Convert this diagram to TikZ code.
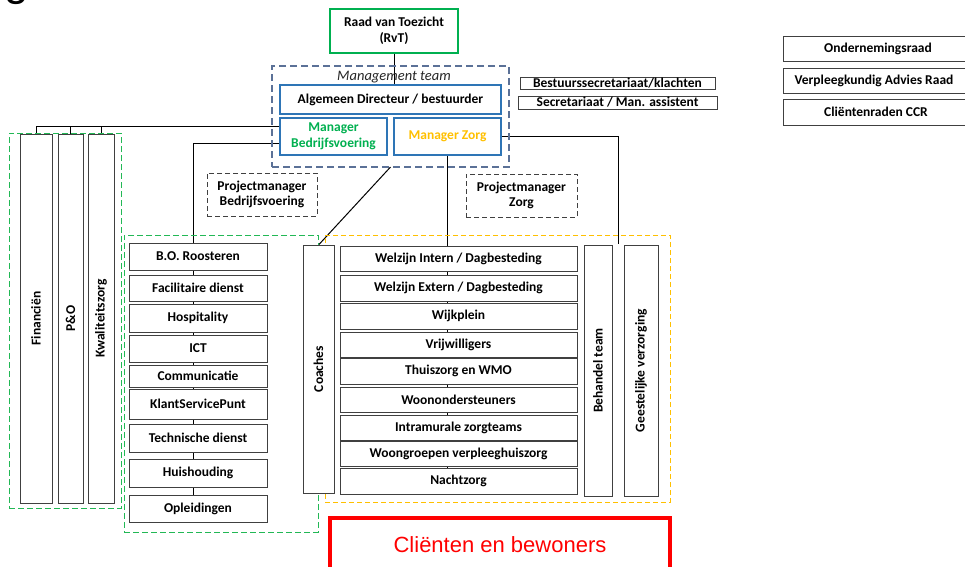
\documentclass[tikz,border=0pt]{standalone}
\usepackage{fontspec}
\setmainfont{Carlito}
\newfontfamily\arialf{Liberation Sans}
\usetikzlibrary{backgrounds}
\definecolor{gtxt}{HTML}{00B050}
\definecolor{gdash}{HTML}{22B855}
\definecolor{ydash}{HTML}{FFC000}
\definecolor{bluebox}{HTML}{2E75B6}
\definecolor{mtdash}{HTML}{5B7197}
\definecolor{edge}{HTML}{404040}
\tikzset{
  box/.style={draw=edge, line width=1pt, fill=white, inner sep=0pt, outer sep=0pt,
    font=\bfseries\fontsize{13.5}{15.5}\selectfont, align=center, text=black},
  bluebx/.style={draw=bluebox, line width=1.2pt},
  pmbox/.style={draw=edge, dash pattern=on 5pt off 3pt, line width=1pt},
  gframe/.style={draw=gdash, dash pattern=on 6pt off 3pt, line width=1pt, fill=none},
  yframe/.style={draw=ydash, dash pattern=on 5pt off 3pt, line width=1pt, fill=none},
  mtframe/.style={draw=mtdash, dash pattern=on 7pt off 4pt, line width=1.2pt, fill=none},
  conn/.style={draw=black, line width=1pt},
  rtxt/.style={font=\bfseries\fontsize{13.5}{15.5}\selectfont, inner sep=0pt},
}
\newcommand{\obox}[6][]{\node[box,#1,minimum width={(#4)-(#2)},minimum height={(#5)-(#3)}] (#6) at ({((#2)+(#4))/2},{((#3)+(#5))/2})}
\newcommand{\rotbox}[6][]{\node[box,#1,rotate=90,minimum width={(#5)-(#3)},minimum height={(#4)-(#2)}] (#6) at ({((#2)+(#4))/2},{((#3)+(#5))/2})}
\begin{document}
\begin{tikzpicture}[x=1pt,y=-1pt]
\useasboundingbox (0,0) rectangle (965,566);
% clipped title fragment
\node[anchor=base west, inner sep=0pt, font=\arialf\fontsize{44}{44}\selectfont] (ttl) at (4,-5) {g};

% frames
\obox[mtframe]{272}{66}{509}{167}{mt} {};
\node[inner sep=0pt, font=\itshape\fontsize{14.5}{16}\selectfont, text=black!85] (mtl) at (394,77) {Management team};
\obox[gframe]{9}{133}{121}{508}{gf1} {};
\obox[gframe]{124}{235}{318}{532}{gf2} {};
\obox[yframe]{325}{235}{670}{502}{yf} {};

% top
\obox[draw=gtxt, line width=1.2pt]{330}{9}{458}{53}{rvt} {Raad van Toezicht\\(RvT)};
\obox[bluebx]{280}{85}{501}{114}{alg} {Algemeen Directeur / bestuurder};
\obox[bluebx, text=gtxt]{280}{118}{387}{155}{mb} {Manager\\Bedrijfsvoering};
\obox[bluebx, text=ydash]{394}{118}{501}{155}{mz} {Manager Zorg};
\obox{520}{77}{715}{89}{bs} {Bestuurssecretariaat/klachten};
\obox{518}{96}{717}{109}{sec} {Secretariaat / Man. assistent};
\obox{783}{36}{968}{61}{or} {};
\node[rtxt] (ort) at (878,48.5) {Ondernemingsraad};
\obox{783}{68}{968}{93}{var} {};
\node[rtxt] (vart) at (874,80.5) {Verpleegkundig Advies Raad};
\obox{783}{99}{968}{125}{ccr} {};
\node[rtxt] (ccrt) at (876,112) {Cliëntenraden CCR};
\obox[pmbox]{207}{173}{317}{216}{pmb} {Projectmanager\\Bedrijfsvoering};
\obox[pmbox]{466}{174}{577}{217}{pmz} {Projectmanager\\Zorg};

% left columns
\rotbox{20}{134}{52}{503}{fin} {Financiën};
\rotbox{58}{134}{83}{503}{po} {P\&O};
\rotbox{88}{134}{114}{503}{kw} {Kwaliteitszorg};

% B.O. stack
\obox{129}{243}{267}{270}{bo} {B.O. Roosteren};
\obox{129}{275}{267}{301}{fd} {Facilitaire dienst};
\obox{129}{304}{267}{332}{hos} {Hospitality};
\obox{129}{335}{267}{362}{ict} {ICT};
\obox{129}{365}{267}{387}{com} {Communicatie};
\obox{129}{389}{267}{419}{ksp} {KlantServicePunt};
\obox{129}{424}{267}{452}{td} {Technische dienst};
\obox{129}{459}{267}{487}{hh} {Huishouding};
\obox{129}{495}{267}{522}{opl} {Opleidingen};

% zorg stack
\rotbox{303}{245}{334}{493}{coa} {Coaches};
\obox{340}{246}{577}{271}{wi} {Welzijn Intern / Dagbesteding};
\obox{340}{275}{577}{301}{we} {Welzijn Extern / Dagbesteding};
\obox{340}{303}{577}{329}{wp} {Wijkplein};
\obox{340}{332}{577}{357}{vw} {Vrijwilligers};
\obox{340}{358}{577}{384}{tz} {Thuiszorg en WMO};
\obox{340}{387}{577}{412}{wo} {Woonondersteuners};
\obox{340}{415}{577}{440}{iz} {Intramurale zorgteams};
\obox{340}{441}{577}{466}{wg} {Woongroepen verpleeghuiszorg};
\obox{340}{468}{577}{494}{nz} {Nachtzorg};
\rotbox{584}{245}{612}{496}{bt} {Behandel team};
\rotbox{624}{245}{658}{496}{gv} {Geestelijke verzorging};

% clients
\node[draw=red, line width=4pt, minimum width=340, minimum height=58, inner sep=0pt] (cl) at (500,547) {};
\node[inner sep=0pt, font=\arialf\fontsize{22}{24}\selectfont, text=red] (clt) at (500,545) {Cliënten en bewoners};

% connectors
\coordinate (h1) at (36,126);
\coordinate (h2) at (193,143);
\coordinate (gz) at (618,244);
\begin{scope}[on background layer]
\draw[conn] (rvt.south) -- (rvt.south |- alg.north);
\draw[conn] (mb.west |- h1) -- (h1) -- (h1 |- fin.east);
\draw[conn] (po.east |- h1) -- (po.east);
\draw[conn] (kw.east |- h1) -- (kw.east);
\draw[conn] (mb.west |- h2) -- (h2) -- (h2 |- bo.north);
\draw[conn] (h2 |- bo.south) -- (h2 |- opl.north);
\draw[conn] (mt.south) -- (coa.east);
\draw[conn] (mz.south) -- (mz.south |- wi.north);
\draw[conn] (mz.south |- wi.south) -- (mz.south |- nz.north);
\draw[conn] (mz.east) -| (gz);
\end{scope}
\end{tikzpicture}
\end{document}
